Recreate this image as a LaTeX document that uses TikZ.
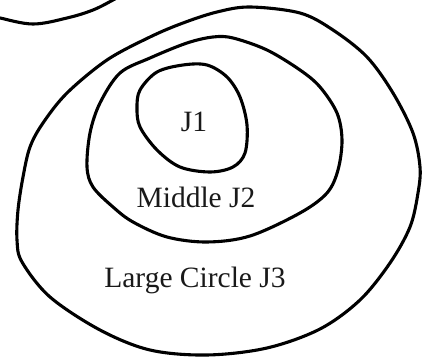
\documentclass[tikz,border=0pt]{standalone}
\usepackage{fontspec}
\setmainfont{Liberation Serif}
\begin{document}
\begin{tikzpicture}[x=1pt,y=-1pt,
  loopline/.style={line width=3.1pt, line join=round, line cap=round},
  lbl/.style={font=\fontsize{29.5}{34}\selectfont, text=black!90, inner sep=0pt}]
\useasboundingbox (0,0) rectangle (432,358);
\clip (0,0) rectangle (432,358);
% partial curve at top left
\draw[loopline] plot[smooth, tension=0.6] coordinates {(-4,17) (0,18) (33,24) (67,18) (93,10) (113,0) (118,-3)};
% J3
\draw[loopline] plot[smooth cycle, tension=0.55] coordinates {
 (250,7) (300,13) (333,30) (367,57) (393,93) (413,133) (420,167) (418,193)
 (410,227) (390,263) (360,300) (320,329) (267,348) (207,355) (150,350) (100,330)
 (50,297) (22,262) (17,240) (18,210) (23,177) (30,147) (43,123) (67,93)
 (107,60) (150,37) (183,23) (217,12)};
% J2
\draw[loopline] plot[smooth cycle, tension=0.55] coordinates {
 (213,37) (233,38) (267,50) (300,70) (320,87) (337,113) (342,140) (338,170)
 (327,193) (300,213) (250,236) (207,242) (167,237) (133,222) (113,207) (93,187)
 (87,167) (90,133) (100,103) (120,73) (150,58) (187,43)};
% J1
\draw[loopline] plot[smooth cycle, tension=0.55] coordinates {
 (183,65) (207,65) (227,77) (240,97) (247,125) (245,153) (233,167) (210,172)
 (180,167) (157,150) (140,127) (137,108) (140,90) (157,72)};
\node[lbl, anchor=base] (j1) at (194,132) {J1};
\node[lbl, anchor=base] (j2) at (196,208) {Middle J2};
\node[lbl, anchor=base] (j3) at (195,288) {Large Circle J3};
\end{tikzpicture}
\end{document}
